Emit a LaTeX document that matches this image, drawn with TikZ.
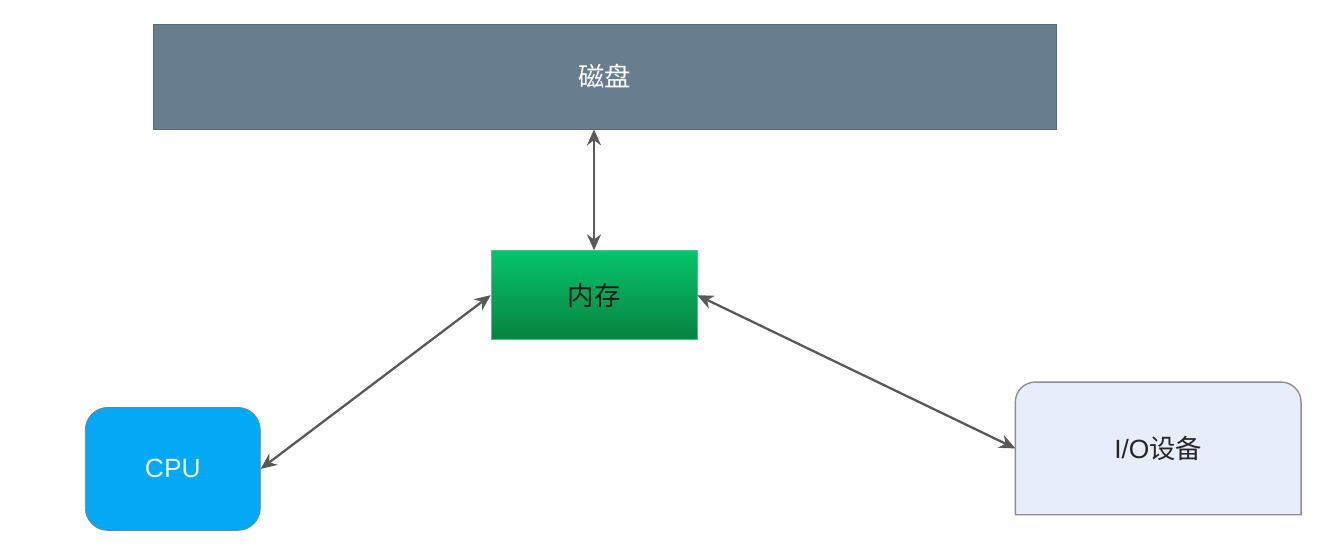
\documentclass[tikz,border=0pt]{standalone}
\usepackage{fontspec}
\setmainfont{Liberation Sans}
\newfontfamily\cjk{Noto Sans CJK SC}
\usetikzlibrary{positioning}
\usetikzlibrary{arrows.meta}
\usetikzlibrary{backgrounds}
\definecolor{diskgray}{HTML}{687D8E}
\definecolor{memtop}{HTML}{06C46C}
\definecolor{membot}{HTML}{08823F}
\definecolor{cpublue}{HTML}{03A9F4}
\definecolor{cpuline}{HTML}{6F8593}
\definecolor{iofill}{HTML}{E8EEF9}
\definecolor{ioline}{HTML}{8F8F8F}
\definecolor{arrowgray}{HTML}{595959}
\tikzset{node distance=2cm, % only used as a default, every gap below is given
  every node/.style={align=center, inner sep=0pt,
    font=\fontsize{15}{18}\selectfont},
  diskbox/.style={ % the wide slab on top
    fill=diskgray, draw=diskgray!85!black, text=white,
    minimum width=18.06cm, minimum height=2.1cm},
  membox/.style={ % green box in the middle
    top color=memtop, bottom color=membot, draw=memtop!80!white,
    text=black!90, minimum width=4.12cm, minimum height=1.78cm},
  cpubox/.style={
    fill=cpublue, draw=cpuline, rounded corners=4.5mm,
    text=cyan!8, minimum width=3.5cm, minimum height=2.46cm},
  iobox/.style={ % outline is drawn afterwards (only top corners round)
    text=black!85, minimum width=5.7cm, minimum height=2.64cm},
  every edge/.style={ % two-way links
    draw, {Stealth[length=3.2mm,width=2.8mm]}-{Stealth[length=3.2mm,width=2.8mm]},
    line width=1.3pt, arrowgray}}
\begin{document}
\begin{tikzpicture}
  \useasboundingbox (0,0) rectangle (26.6,-11.02);

  \node [diskbox] (disk) at (12.09,-1.53) {\cjk 磁盘};
  \node [membox, below=2.42cm of disk, xshift=-2.1mm] (mem) {\cjk 内存};
  \node [cpubox, below left=1.34cm and 4.6cm of mem] (cpu) {CPU};
  \node [iobox, below right=0.84cm and 6.36cm of mem] (io) {I/O{\cjk 设备}};

  \begin{scope}[on background layer]
    \draw [fill=iofill, draw=ioline, line width=0.8pt]
      (io.south west) [rounded corners=4mm] -- (io.north west)
      -- (io.north east) [sharp corners] -- (io.south east) -- cycle;
  \end{scope}

  \draw (mem.north) edge (mem.north |- disk.south);
  \draw (mem.west) edge (cpu.east);
  \draw (mem.east) edge (io.west);

\end{tikzpicture}
\end{document}
